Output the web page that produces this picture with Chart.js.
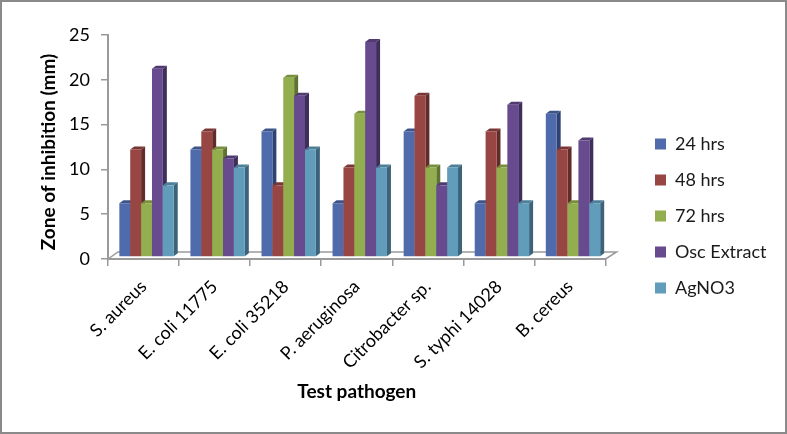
<!DOCTYPE html>
<html>
<head>
<meta charset="utf-8">
<script src="https://cdn.jsdelivr.net/npm/chart.js@4"></script>
<style>
    html, body { margin: 0; padding: 0; background: #fff; }
    #wrap { position: relative; width: 787px; height: 434px; overflow: hidden; }
    #frame { position: absolute; left: 0; top: 0; width: 783px; height: 430px; border: 2px solid #8a8a8a; }
    canvas { position: absolute; left: 0; top: 0; }
</style>
</head>
<body>
<div id="wrap">
    <div id="frame"></div>
    <canvas id="chart" width="787" height="434"></canvas>
</div>
<script>
const categories = ['S. aureus', 'E. coli 11775', 'E. coli 35218', 'P. aeruginosa', 'Citrobacter sp.', 'S. typhi 14028', 'B. cereus'];
const hrs24 = [6, 12, 14, 6, 14, 6, 16];
const hrs48 = [12, 14, 8, 10, 18, 14, 12];
const hrs72 = [6, 12, 20, 16, 10, 10, 6];
const oscExtract = [21, 11, 18, 24, 8, 17, 13];
const agNO3 = [8, 10, 12, 10, 10, 6, 6];
const yTicks = [0, 5, 10, 15, 20, 25];

const seriesNames = ['24 hrs', '48 hrs', '72 hrs', 'Osc Extract', 'AgNO3'];
const seriesValues = [hrs24, hrs48, hrs72, oscExtract, agNO3];
const frontColors = ['#4f6bab', '#984643', '#93ae4e', '#674b8e', '#619cba'];
const sideColors = ['#2f4272', '#622b29', '#5f7430', '#3f2d5c', '#3c6379'];
const topColors = ['#3d5488', '#7a3634', '#78903c', '#513a72', '#4d7f99'];

const axisGrey = '#9a9a9a';
const font = 'Lato, Carlito, sans-serif';

// depth of the fake 3D, and how far the bars sit in from the front edge of the floor
const depthX = 4, depthY = 3;
const shiftX = 3, shiftY = -2;

const bars3d = {
    id: 'bars3d',
    afterLayout(chart) {
        // push the legend over to where the reference has it
        const lg = chart.legend;
        const w = lg.right - lg.left, h = lg.bottom - lg.top;
        lg.left = 637;
        lg.right = 637 + w;
        lg.top = 216 - h / 2;
        lg.bottom = lg.top + h;
    },
    beforeDatasetsDraw(chart) {
        const { ctx, chartArea: a } = chart;

        // floor
        ctx.save();
        ctx.strokeStyle = axisGrey;
        ctx.lineWidth = 1.5;
        ctx.beginPath();
        ctx.moveTo(a.left, a.bottom);
        ctx.lineTo(a.left + 10, a.bottom - 7);
        ctx.lineTo(a.right + 11, a.bottom - 7);
        ctx.lineTo(a.right, a.bottom);
        ctx.stroke();
        ctx.restore();

        // left to right so each front covers the side of the bar before it
        ctx.save();
        ctx.translate(shiftX, shiftY);
        seriesValues.forEach((vals, d) => {
            chart.getDatasetMeta(d).data.forEach(el => {
                const p = el.getProps(['x', 'y', 'base', 'width'], true);
                const l = p.x - p.width / 2, r = p.x + p.width / 2;
                ctx.fillStyle = sideColors[d];
                ctx.beginPath();
                ctx.moveTo(r, p.y);
                ctx.lineTo(r + depthX, p.y - depthY);
                ctx.lineTo(r + depthX, p.base - depthY);
                ctx.lineTo(r, p.base);
                ctx.closePath();
                ctx.fill();
                ctx.fillStyle = topColors[d];
                ctx.beginPath();
                ctx.moveTo(l, p.y);
                ctx.lineTo(l + depthX, p.y - depthY);
                ctx.lineTo(r + depthX, p.y - depthY);
                ctx.lineTo(r, p.y);
                ctx.closePath();
                ctx.fill();
                el.draw(ctx);
            });
        });
        ctx.restore();
        return false;
    },
    afterDraw(chart) {
        // y title sits a bit below the axis centre in the reference
        const { ctx } = chart;
        ctx.save();
        ctx.translate(49, 152);
        ctx.rotate(-Math.PI / 2);
        ctx.textAlign = 'center';
        ctx.textBaseline = 'middle';
        ctx.fillStyle = '#000';
        ctx.font = 'bold 19px ' + font;
        ctx.fillText('Zone of inhibition (mm)', 0, 0);
        ctx.restore();
    }
};

new Chart(document.getElementById('chart'), {
    type: 'bar',
    data: {
        labels: categories,
        datasets: seriesNames.map((name, i) => ({
            label: name,
            data: seriesValues[i],
            backgroundColor: frontColors[i],
            borderWidth: 0,
            barPercentage: 1,
            categoryPercentage: 0.765
        }))
    },
    plugins: [bars3d],
    options: {
        responsive: false,
        animation: false,
        layout: { padding: { left: 36, top: 35, right: 42, bottom: 27 } },
        plugins: {
            tooltip: { enabled: false },
            legend: {
                position: 'right',
                labels: {
                    boxWidth: 11,
                    boxHeight: 11,
                    padding: 18,
                    color: '#1a1a1a',
                    font: { family: font, size: 18 }
                }
            }
        },
        scales: {
            x: {
                afterFit(s) { s.height = 434 - 259 - 27; },
                grid: { drawOnChartArea: false, color: axisGrey, tickLength: 7, lineWidth: 1.5 },
                border: { color: axisGrey, width: 2 },
                ticks: {
                    maxRotation: 45,
                    minRotation: 45,
                    autoSkip: false,
                    padding: 10,
                    color: '#000',
                    font: { family: font, size: 18 }
                },
                title: {
                    display: true,
                    text: 'Test pathogen',
                    color: '#000',
                    font: { family: font, size: 19, weight: 'bold' }
                }
            },
            y: {
                min: 0,
                max: 25,
                afterFit(s) { s.width = 108 - 36; },
                afterBuildTicks(s) { s.ticks = yTicks.map(v => ({ value: v })); },
                grid: { drawOnChartArea: false, color: axisGrey, tickLength: 7, lineWidth: 1.5 },
                border: { color: axisGrey, width: 2 },
                ticks: {
                    color: '#000',
                    padding: 11,
                    font: { family: font, size: 18 }
                }
            }
        }
    }
});
</script>
</body>
</html>
